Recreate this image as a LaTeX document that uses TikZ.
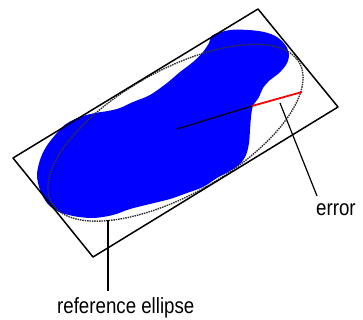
\documentclass[tikz,border=0pt]{standalone}
\usepackage{fontspec}
\setmainfont{Liberation Sans}
\begin{document}
\begin{tikzpicture}[x=1pt,y=-1pt,line join=round,
  frame/.style={black,line width=1.5pt},
  refell/.style={black!80,line width=1.4pt,dash pattern=on 1.5pt off 0.9pt},
  leader/.style={black,line width=1.2pt},
  radius line/.style={black,line width=1.2pt},
  err line/.style={red,line width=1.8pt},
  blob/.style={fill={rgb,255:red,0;green,0;blue,255},draw=none},
  lbl/.style={font=\fontsize{22}{22}\selectfont,xscale=0.85,inner sep=0pt,anchor=base west}]
\useasboundingbox (0,0) rectangle (363,320);
% blue measured region
\fill[blob] plot[smooth cycle,tension=0.55] coordinates {
 (213,35) (230,30) (248,30) (264,32) (277,37) (286,46) (289,56) (286,65)
 (278,74) (270,80) (263,88) (259,97) (253,106) (251,117) (250,130) (249,143)
 (246,155) (240,164) (230,171) (217,178) (203,187) (187,193) (170,199)
 (150,204) (130,209) (113,215) (93,218) (73,216) (57,211) (47,203) (40,190)
 (37,175) (40,160) (46,147) (56,134) (66,124) (80,117) (95,113) (108,111)
 (120,108) (133,102) (150,95) (167,83) (180,72) (193,62) (203,52) (209,43)};
% reference ellipse (inscribed in the box)
\draw[refell] plot[domain=0:360,samples=144]
  ({175.5+0.99*(122.5*cos(\x)+40*sin(\x))},{132.75+0.99*(-74.5*cos(\x)+49.25*sin(\x))}) -- cycle;
% bounding box
\coordinate (TL) at (13,158);
\coordinate (TR) at (258,9);
\coordinate (BR) at (338,107);
\coordinate (BL) at (93,257);
\draw[frame] (TL) -- (TR) -- (BR) -- (BL) -- cycle;
% radius and error
\coordinate (C) at (177,129);
\coordinate (E) at (252,106);
\coordinate (P) at (302,92);
\draw[radius line] (C) -- (E);
\draw[err line] (E) -- (P);
% labels
\node[lbl] (errlbl) at (316,215) {error};
\node[lbl] (reflbl) at (57,313) {reference ellipse};
\coordinate (errtip) at (280,103);
\coordinate (errend) at (317,196);
\draw[leader] (errtip) -- (errend);
\coordinate (reftip) at (108,220);
\coordinate (refend) at (108,291);
\draw[leader] (reftip) -- (refend);
\end{tikzpicture}
\end{document}
